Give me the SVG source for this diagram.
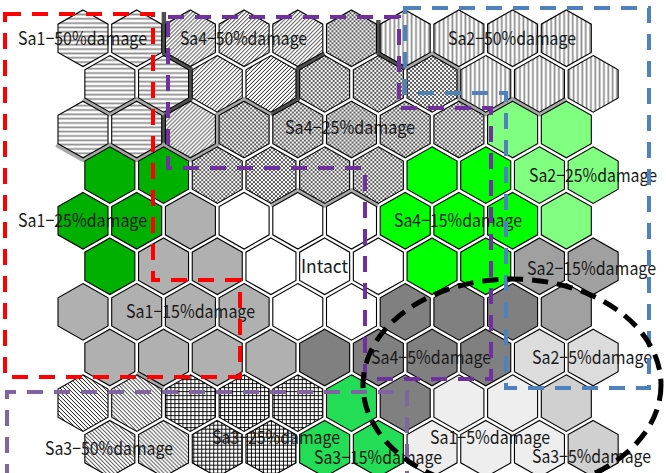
<svg xmlns="http://www.w3.org/2000/svg" xmlns:xlink="http://www.w3.org/1999/xlink" width="666" height="473" viewBox="0 0 666 473">
<style>
.hx{stroke:#000;stroke-width:1.1}
.H{fill:url(#ph)} .V{fill:url(#pv)} .D{fill:url(#pd)} .X{fill:url(#px)} .C{fill:url(#pc)} .R{fill:url(#pg)}
.L{fill:#80ff80} .G{fill:#00b000} .B{fill:#00ff00} .E{fill:#22dd55}
.S{fill:#b0b0b0} .W{fill:#ffffff} .M{fill:#a0a0a0} .K{fill:#808080} .P{fill:#dcdcdc} .Q{fill:#eeeeee} .T{fill:#d0d0d0}
.bd{fill:none;stroke:#505050;stroke-width:4.5;stroke-linejoin:round}
.bg{fill:none;stroke:#a8a8a8;stroke-width:4.5;stroke-linejoin:round}
.t{font-family:"Noto Sans CJK JP","Noto Sans",sans-serif;font-size:18px;fill:#1a1a1a}
.dash{fill:none;stroke-width:4;stroke-dasharray:16 11}
</style>
<defs>
<polygon id="hx" points="0,-28.3 25,-14.15 25,14.15 0,28.3 -25,14.15 -25,-14.15"/>
<pattern id="ph" patternUnits="userSpaceOnUse" width="8" height="4.33"><rect width="8" height="4.33" fill="#fff"/><rect y="1.3" width="8" height="1.7" fill="#8c8c8c"/></pattern>
<pattern id="pv" patternUnits="userSpaceOnUse" width="4.33" height="8"><rect width="4.33" height="8" fill="#fff"/><rect x="1.3" width="1.7" height="8" fill="#8c8c8c"/></pattern>
<pattern id="pd" patternUnits="userSpaceOnUse" width="4" height="4"><rect width="4" height="4" fill="#fff"/><path d="M-1,1 L1,-1 M0,4 L4,0 M3,5 L5,3" stroke="#000" stroke-width="0.9"/></pattern>
<pattern id="px" patternUnits="userSpaceOnUse" width="4" height="4"><rect width="4" height="4" fill="#fff"/><path d="M-1,3 L1,5 M0,0 L4,4 M3,-1 L5,1" stroke="#000" stroke-width="0.9"/></pattern>
<pattern id="pc" patternUnits="userSpaceOnUse" width="4" height="4"><rect width="4" height="4" fill="#fff"/><rect width="2" height="2" fill="#5a5a5a"/><rect x="2" y="2" width="2" height="2" fill="#5a5a5a"/></pattern>
<pattern id="pg" patternUnits="userSpaceOnUse" width="4" height="4"><rect width="4" height="4" fill="#fff"/><path d="M0,0.5 H4 M0.5,0 V4" stroke="#000" stroke-width="0.9"/></pattern>
</defs>
<rect width="666" height="473" fill="#fff"/>
<g id="boundaries">
<path class="bd" d="M163.9,12 V53.5 L190.6,68.7 V99.1 L163.7,114.3 V144.7"/>
<path class="bd" d="M324.65,53.5 L297.8,68.7 V99.1 L270.95,114.3"/>
<path class="bd" d="M378.35,20 V53.5 L405.2,68.7"/>
<path class="bg" d="M83.2,99.1 L110.1,114.3 L137,99.1 L163.7,114.3"/>
<path class="bg" d="M270.95,114.3 L244.1,99.1 L217.3,114.3 V144.7 L190.6,159.9 L163.8,144.7 L137,159.9 L110.1,144.7 L83.2,159.9 L56.4,144.7"/>
<path class="bg" d="M405.2,68.7 L432.05,53.5 L458.9,68.7 V99.1 L485.75,114.3 L512.6,99.1 L539.45,114.3 L566.3,99.1"/>
<path class="bg" d="M270.95,205.5 L297.8,190.3 L324.65,205.5 L351.5,190.3 L378.35,205.5"/>
<path class="bg" d="M137,372.7 L163.8,387.9"/>
</g>
<g id="hexes">
<use id="h0-0" href="#hx" class="hx H" x="83" y="38.3"/><use id="h0-1" href="#hx" class="hx H" x="136.7" y="38.3"/><use id="h0-2" href="#hx" class="hx D" x="190.4" y="38.3"/><use id="h0-3" href="#hx" class="hx D" x="244.1" y="38.3"/><use id="h0-4" href="#hx" class="hx D" x="297.8" y="38.3"/><use id="h0-5" href="#hx" class="hx C" x="351.5" y="38.3"/><use id="h0-6" href="#hx" class="hx V" x="405.2" y="38.3"/><use id="h0-7" href="#hx" class="hx V" x="458.9" y="38.3"/><use id="h0-8" href="#hx" class="hx V" x="512.6" y="38.3"/><use id="h0-9" href="#hx" class="hx V" x="566.3" y="38.3"/>
<use id="h1-0" href="#hx" class="hx H" x="109.85" y="83.9"/><use id="h1-1" href="#hx" class="hx H" x="163.55" y="83.9"/><use id="h1-2" href="#hx" class="hx D" x="217.25" y="83.9"/><use id="h1-3" href="#hx" class="hx D" x="270.95" y="83.9"/><use id="h1-4" href="#hx" class="hx C" x="324.65" y="83.9"/><use id="h1-5" href="#hx" class="hx C" x="378.35" y="83.9"/><use id="h1-6" href="#hx" class="hx C" x="432.05" y="83.9"/><use id="h1-7" href="#hx" class="hx V" x="485.75" y="83.9"/><use id="h1-8" href="#hx" class="hx V" x="539.45" y="83.9"/><use id="h1-9" href="#hx" class="hx V" x="593.15" y="83.9"/>
<use id="h2-0" href="#hx" class="hx H" x="83" y="129.5"/><use id="h2-1" href="#hx" class="hx H" x="136.7" y="129.5"/><use id="h2-2" href="#hx" class="hx D" x="190.4" y="129.5"/><use id="h2-3" href="#hx" class="hx C" x="244.1" y="129.5"/><use id="h2-4" href="#hx" class="hx C" x="297.8" y="129.5"/><use id="h2-5" href="#hx" class="hx C" x="351.5" y="129.5"/><use id="h2-6" href="#hx" class="hx C" x="405.2" y="129.5"/><use id="h2-7" href="#hx" class="hx C" x="458.9" y="129.5"/><use id="h2-8" href="#hx" class="hx L" x="512.6" y="129.5"/><use id="h2-9" href="#hx" class="hx L" x="566.3" y="129.5"/>
<use id="h3-0" href="#hx" class="hx G" x="109.85" y="175.1"/><use id="h3-1" href="#hx" class="hx G" x="163.55" y="175.1"/><use id="h3-2" href="#hx" class="hx C" x="217.25" y="175.1"/><use id="h3-3" href="#hx" class="hx C" x="270.95" y="175.1"/><use id="h3-4" href="#hx" class="hx C" x="324.65" y="175.1"/><use id="h3-5" href="#hx" class="hx C" x="378.35" y="175.1"/><use id="h3-6" href="#hx" class="hx B" x="432.05" y="175.1"/><use id="h3-7" href="#hx" class="hx B" x="485.75" y="175.1"/><use id="h3-8" href="#hx" class="hx L" x="539.45" y="175.1"/><use id="h3-9" href="#hx" class="hx L" x="593.15" y="175.1"/>
<use id="h4-0" href="#hx" class="hx G" x="83" y="220.7"/><use id="h4-1" href="#hx" class="hx G" x="136.7" y="220.7"/><use id="h4-2" href="#hx" class="hx S" x="190.4" y="220.7"/><use id="h4-3" href="#hx" class="hx W" x="244.1" y="220.7"/><use id="h4-4" href="#hx" class="hx W" x="297.8" y="220.7"/><use id="h4-5" href="#hx" class="hx W" x="351.5" y="220.7"/><use id="h4-6" href="#hx" class="hx B" x="405.2" y="220.7"/><use id="h4-7" href="#hx" class="hx B" x="458.9" y="220.7"/><use id="h4-8" href="#hx" class="hx B" x="512.6" y="220.7"/><use id="h4-9" href="#hx" class="hx L" x="566.3" y="220.7"/>
<use id="h5-0" href="#hx" class="hx G" x="109.85" y="266.3"/><use id="h5-1" href="#hx" class="hx S" x="163.55" y="266.3"/><use id="h5-2" href="#hx" class="hx S" x="217.25" y="266.3"/><use id="h5-3" href="#hx" class="hx W" x="270.95" y="266.3"/><use id="h5-4" href="#hx" class="hx W" x="324.65" y="266.3"/><use id="h5-5" href="#hx" class="hx W" x="378.35" y="266.3"/><use id="h5-6" href="#hx" class="hx B" x="432.05" y="266.3"/><use id="h5-7" href="#hx" class="hx B" x="485.75" y="266.3"/><use id="h5-8" href="#hx" class="hx M" x="539.45" y="266.3"/><use id="h5-9" href="#hx" class="hx M" x="593.15" y="266.3"/>
<use id="h6-0" href="#hx" class="hx S" x="83" y="311.9"/><use id="h6-1" href="#hx" class="hx S" x="136.7" y="311.9"/><use id="h6-2" href="#hx" class="hx S" x="190.4" y="311.9"/><use id="h6-3" href="#hx" class="hx S" x="244.1" y="311.9"/><use id="h6-4" href="#hx" class="hx W" x="297.8" y="311.9"/><use id="h6-5" href="#hx" class="hx W" x="351.5" y="311.9"/><use id="h6-6" href="#hx" class="hx K" x="405.2" y="311.9"/><use id="h6-7" href="#hx" class="hx K" x="458.9" y="311.9"/><use id="h6-8" href="#hx" class="hx K" x="512.6" y="311.9"/><use id="h6-9" href="#hx" class="hx M" x="566.3" y="311.9"/>
<use id="h7-0" href="#hx" class="hx S" x="109.85" y="357.5"/><use id="h7-1" href="#hx" class="hx S" x="163.55" y="357.5"/><use id="h7-2" href="#hx" class="hx S" x="217.25" y="357.5"/><use id="h7-3" href="#hx" class="hx S" x="270.95" y="357.5"/><use id="h7-4" href="#hx" class="hx K" x="324.65" y="357.5"/><use id="h7-5" href="#hx" class="hx K" x="378.35" y="357.5"/><use id="h7-6" href="#hx" class="hx K" x="432.05" y="357.5"/><use id="h7-7" href="#hx" class="hx K" x="485.75" y="357.5"/><use id="h7-8" href="#hx" class="hx P" x="539.45" y="357.5"/><use id="h7-9" href="#hx" class="hx P" x="593.15" y="357.5"/>
<use id="h8-0" href="#hx" class="hx X" x="83" y="403.1"/><use id="h8-1" href="#hx" class="hx X" x="136.7" y="403.1"/><use id="h8-2" href="#hx" class="hx R" x="190.4" y="403.1"/><use id="h8-3" href="#hx" class="hx R" x="244.1" y="403.1"/><use id="h8-4" href="#hx" class="hx R" x="297.8" y="403.1"/><use id="h8-5" href="#hx" class="hx E" x="351.5" y="403.1"/><use id="h8-6" href="#hx" class="hx K" x="405.2" y="403.1"/><use id="h8-7" href="#hx" class="hx Q" x="458.9" y="403.1"/><use id="h8-8" href="#hx" class="hx Q" x="512.6" y="403.1"/><use id="h8-9" href="#hx" class="hx T" x="566.3" y="403.1"/>
<use id="h9-0" href="#hx" class="hx X" x="109.85" y="448.7"/><use id="h9-1" href="#hx" class="hx X" x="163.55" y="448.7"/><use id="h9-2" href="#hx" class="hx R" x="217.25" y="448.7"/><use id="h9-3" href="#hx" class="hx R" x="270.95" y="448.7"/><use id="h9-4" href="#hx" class="hx E" x="324.65" y="448.7"/><use id="h9-5" href="#hx" class="hx E" x="378.35" y="448.7"/><use id="h9-6" href="#hx" class="hx Q" x="432.05" y="448.7"/><use id="h9-7" href="#hx" class="hx Q" x="485.75" y="448.7"/><use id="h9-8" href="#hx" class="hx Q" x="539.45" y="448.7"/><use id="h9-9" href="#hx" class="hx T" x="593.15" y="448.7"/>
</g>
<g id="labels">
<text class="t" x="18" y="45" textLength="129" lengthAdjust="spacingAndGlyphs">Sa1−50%damage</text>
<text class="t" x="180" y="45" textLength="127" lengthAdjust="spacingAndGlyphs">Sa4−50%damage</text>
<text class="t" x="448" y="45" textLength="128" lengthAdjust="spacingAndGlyphs">Sa2−50%damage</text>
<text class="t" x="285" y="134" textLength="130" lengthAdjust="spacingAndGlyphs">Sa4−25%damage</text>
<text class="t" x="529" y="182" textLength="128" lengthAdjust="spacingAndGlyphs">Sa2−25%damage</text>
<text class="t" x="18" y="227" textLength="129" lengthAdjust="spacingAndGlyphs">Sa1−25%damage</text>
<text class="t" x="394" y="227" textLength="128" lengthAdjust="spacingAndGlyphs">Sa4−15%damage</text>
<text class="t" x="301" y="273" textLength="47" lengthAdjust="spacingAndGlyphs">Intact</text>
<text class="t" x="527" y="275" textLength="129" lengthAdjust="spacingAndGlyphs">Sa2−15%damage</text>
<text class="t" x="126" y="318" textLength="129" lengthAdjust="spacingAndGlyphs">Sa1−15%damage</text>
<text class="t" x="371" y="364" textLength="120" lengthAdjust="spacingAndGlyphs">Sa4−5%damage</text>
<text class="t" x="532" y="364" textLength="120" lengthAdjust="spacingAndGlyphs">Sa2−5%damage</text>
<text class="t" x="45" y="455" textLength="128" lengthAdjust="spacingAndGlyphs">Sa3−50%damage</text>
<text class="t" x="212" y="444" textLength="128" lengthAdjust="spacingAndGlyphs">Sa3−25%damage</text>
<text class="t" x="314" y="464" textLength="128" lengthAdjust="spacingAndGlyphs">Sa3−15%damage</text>
<text class="t" x="430" y="444" textLength="120" lengthAdjust="spacingAndGlyphs">Sa1−5%damage</text>
<text class="t" x="532" y="463" textLength="119" lengthAdjust="spacingAndGlyphs">Sa3−5%damage</text>
</g>
<g id="groups">
<path class="dash" stroke="#ff0000" d="M5,14 H153 V280 H240 V377 H5 Z"/>
<path class="dash" stroke="#7030a0" d="M168,17 H399 V108 H491 V379 H365 V168 H168 Z"/>
<path class="dash" stroke="#4f81bd" d="M405,8 H649 V388 H506 V93 H405 Z"/>
<path class="dash" stroke="#8064a2" d="M7,480 V392 H407 V480"/>
<ellipse cx="512" cy="385" rx="149" ry="106" fill="none" stroke="#000" stroke-width="5" stroke-dasharray="16 9"/>
</g>
</svg>
